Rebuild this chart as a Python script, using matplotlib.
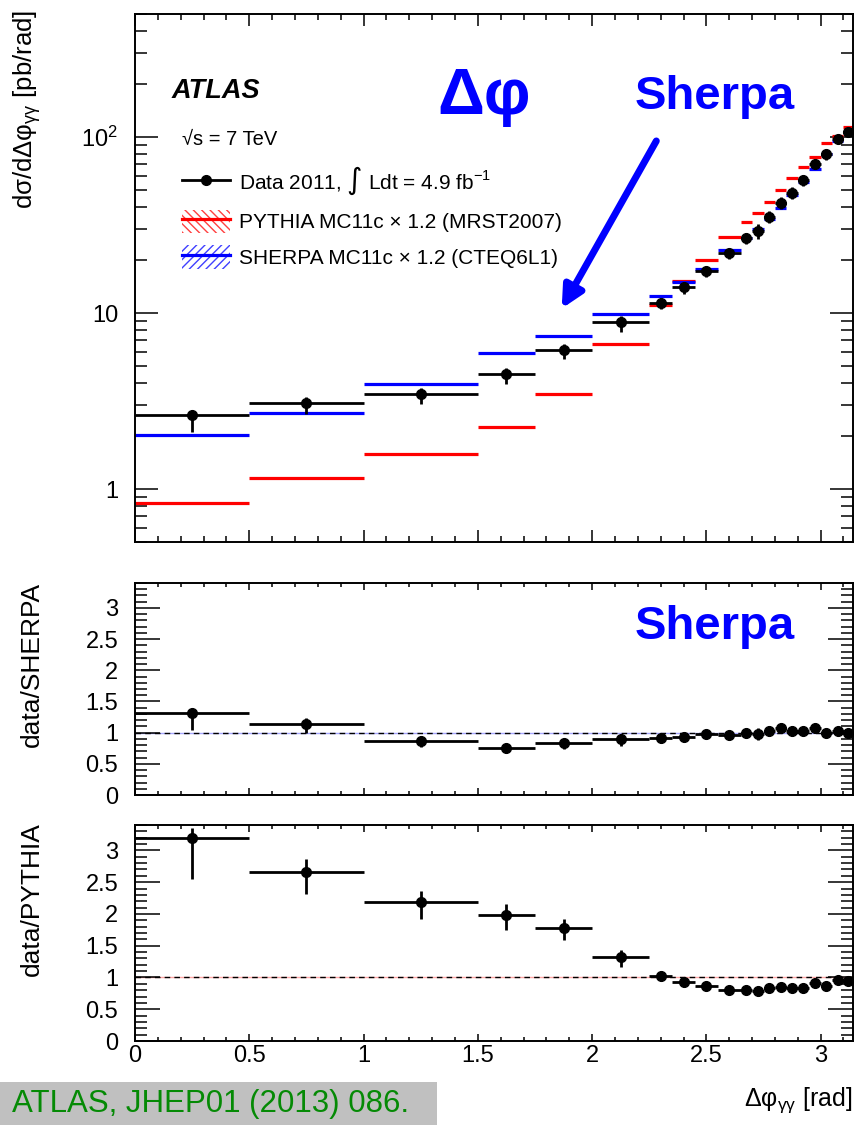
import numpy as np
import matplotlib
matplotlib.use('Agg')
import matplotlib.pyplot as plt
from matplotlib.lines import Line2D
from matplotlib.patches import Patch, Rectangle
from matplotlib.ticker import FixedLocator, MultipleLocator, NullFormatter

plt.rcParams['font.family'] = ['Liberation Sans', 'DejaVu Sans']
plt.rcParams['mathtext.fontset'] = 'custom'
plt.rcParams['mathtext.rm'] = 'Liberation Sans'
plt.rcParams['mathtext.it'] = 'Liberation Sans:italic'
plt.rcParams['hatch.linewidth'] = 1.0

# delta-phi binning [rad]
edges = np.array([0.0, 0.5, 1.0, 1.5, 1.75, 2.0, 2.25, 2.35, 2.45, 2.55, 2.65,
                  2.70, 2.75, 2.80, 2.85, 2.90, 2.95, 3.00, 3.05, 3.10, np.pi])

# cross sections [pb/rad]
data = [2.65, 3.08, 3.45, 4.50, 6.18, 8.87, 11.4, 14.0, 17.3, 21.8,
        26.7, 29.3, 35.3, 42.4, 48.3, 57.0, 70.6, 79.8, 97.8, 106.7]
sherpa = [2.02, 2.71, 3.97, 5.92, 7.45, 9.86, 12.5, 15.1, 17.7, 22.7,
          26.7, 29.9, 34.3, 39.3, 46.9, 55.3, 65.4, 79.8, 95.0, 106.7]
pythia = [0.83, 1.16, 1.575, 2.26, 3.47, 6.67, 11.1, 15.2, 20.1, 26.9,
          33.0, 37.1, 42.5, 49.9, 58.2, 67.9, 76.7, 92.8, 101.9, 113.5]

# fractional data uncertainties (up / down)
err_up = [0.05, 0.08, 0.08, 0.08, 0.08, 0.08, 0.07, 0.07, 0.06, 0.06,
          0.07, 0.09, 0.07, 0.07, 0.07, 0.06, 0.06, 0.06, 0.05, 0.05]
err_dn = [0.20, 0.13, 0.12, 0.12, 0.11, 0.12, 0.08, 0.08, 0.07, 0.07,
          0.08, 0.10, 0.08, 0.08, 0.08, 0.07, 0.07, 0.07, 0.06, 0.06]

data = np.array(data)
sherpa = np.array(sherpa)
pythia = np.array(pythia)
err_up = np.array(err_up)
err_dn = np.array(err_dn)

centers = 0.5 * (edges[1:] + edges[:-1])
halfw = 0.5 * (edges[1:] - edges[:-1])

W, H = 856, 1125
fig = plt.figure(figsize=(W / 100, H / 100), dpi=100)


def px_axes(left, top, right, bottom):
    return fig.add_axes([left / W, 1 - bottom / H, (right - left) / W, (bottom - top) / H])


ax_main = px_axes(135, 14, 853, 542)
ax_sh = px_axes(135, 583, 853, 795)
ax_py = px_axes(135, 825, 853, 1041)

TICK_FS = 17
MS = 7


def style_axes(ax, xmaj, xmin, ymaj, ymin):
    for s in ax.spines.values():
        s.set_linewidth(1.4)
    ax.set_xlim(0, np.pi)
    ax.xaxis.set_major_locator(MultipleLocator(0.5))
    ax.xaxis.set_minor_locator(MultipleLocator(0.1))
    ax.tick_params(axis='both', which='both', direction='in', top=True, right=True,
                   width=1.1, labelsize=TICK_FS)
    ax.tick_params(axis='x', which='major', length=xmaj, pad=4)
    ax.tick_params(axis='x', which='minor', length=xmin)
    ax.tick_params(axis='y', which='major', length=ymaj, pad=12)
    ax.tick_params(axis='y', which='minor', length=ymin)


# --- main panel -------------------------------------------------------------
ax = ax_main
ax.set_yscale('log')
ax.set_ylim(0.5, 500)
style_axes(ax, 8.6, 4.3, 16.5, 8.6)
ax.yaxis.set_major_locator(FixedLocator([1, 10, 100]))
ax.set_yticklabels(['1', '10', '$10^{2}$'])
ax.yaxis.set_minor_locator(FixedLocator(
    [m * 10.0 ** e for e in (-1, 0, 1, 2) for m in range(2, 10)]))
ax.yaxis.set_minor_formatter(NullFormatter())
ax.set_xticklabels([])

ax.hlines(pythia, edges[:-1], edges[1:], colors='#ff0000', lw=2.3, zorder=2)
ax.hlines(sherpa, edges[:-1], edges[1:], colors='#0000ff', lw=2.3, zorder=2)
ax.errorbar(centers, data, xerr=halfw, yerr=[data * err_dn, data * err_up],
            fmt='o', color='black', ms=MS, elinewidth=2.0, capsize=0, zorder=3)

ax.text(0.0515, 0.854, 'ATLAS', transform=ax.transAxes, fontsize=19.5,
        fontweight='bold', fontstyle='italic', va='center', ha='left')
ax.text(0.0655, 0.763, '√s = 7 TeV', transform=ax.transAxes, fontsize=14.5,
        va='center', ha='left')

h_data = Line2D([], [], color='black', lw=2.0, marker='o', ms=MS)
h_py = (Patch(facecolor='none', edgecolor='#ff4040', hatch='\\\\\\\\', lw=0),
        Line2D([], [], color='#ff0000', lw=2.3))
h_sh = (Patch(facecolor='none', edgecolor='#4040ff', hatch='////', lw=0),
        Line2D([], [], color='#0000ff', lw=2.3))
leg = ax.legend([h_data, h_py, h_sh],
                [r'Data 2011, $\int$ Ldt = 4.9 fb$^{\mathregular{-1}}$',
                 'PYTHIA MC11c × 1.2 (MRST2007)',
                 'SHERPA MC11c × 1.2 (CTEQ6L1)'],
                loc='upper left', bbox_to_anchor=(0.0655, 0.7145), frameon=False,
                fontsize=15, borderpad=0, borderaxespad=0, handlelength=2.3,
                handleheight=1.35, handletextpad=0.45, labelspacing=0.6)
leg.get_texts()[0].set_math_fontfamily('dejavusans')

ax.text(0.486, 0.843, 'Δφ', transform=ax.transAxes, fontsize=47,
        fontweight='bold', color='#0000ff', ha='center', va='center')
ax.text(0.808, 0.843, 'Sherpa', transform=ax.transAxes, fontsize=34,
        fontweight='bold', color='#0000ff', ha='center', va='center')
ax.annotate('', xy=(1.867, 10.6), xytext=(2.281, 95.0),
            arrowprops=dict(arrowstyle='-|>', color='#0000ff', lw=5,
                            mutation_scale=32, shrinkA=0, shrinkB=0))

# --- ratio panels ------------------------------------------------------------
for ax, mc, col in ((ax_sh, sherpa, '#0000ff'), (ax_py, pythia, '#ff0000')):
    ratio = data / mc
    ax.set_ylim(0, 3.4)
    style_axes(ax, 5, 3, 18, 8.6)
    ax.yaxis.set_minor_locator(MultipleLocator(0.1))
    ax.set_yticks(np.arange(0, 3.01, 0.5))
    ax.set_yticklabels(['0', '0.5', '1', '1.5', '2', '2.5', '3'])
    ax.axhline(1.0, color=col, lw=1.0, alpha=0.35, zorder=1)
    ax.axhline(1.0, color='black', lw=1.0, ls=(0, (4, 3)), zorder=2)
    ax.errorbar(centers, ratio, xerr=halfw, yerr=[ratio * err_dn, ratio * err_up],
                fmt='o', color='black', ms=MS, elinewidth=2.0, capsize=0, zorder=3)

ax_sh.set_xticklabels([])
ax_py.set_xticks([0, 0.5, 1, 1.5, 2, 2.5, 3])
ax_py.set_xticklabels(['0', '0.5', '1', '1.5', '2', '2.5', '3'])
ax_py.tick_params(axis='x', which='major', pad=3)

ax_sh.text(0.808, 0.792, 'Sherpa', transform=ax_sh.transAxes, fontsize=34,
           fontweight='bold', color='#0000ff', ha='center', va='center')

# axis titles
fig.text(27 / W, 1 - 10 / H, 'dσ/dΔφ$_{\\mathregular{γγ}}$ [pb/rad]',
         rotation=90, ha='center', va='top', fontsize=18.5)
fig.text(32 / W, 1 - 582 / H, 'data/SHERPA', rotation=90, ha='center', va='top',
         fontsize=19)
fig.text(32 / W, 1 - 822 / H, 'data/PYTHIA', rotation=90, ha='center', va='top',
         fontsize=19)
fig.text(853 / W, 1 - 1100 / H, 'Δφ$_{\\mathregular{γγ}}$ [rad]',
         ha='right', va='center', fontsize=18)

# reference tag
fig.patches.append(Rectangle((0, 0), 437 / W, 43 / H, transform=fig.transFigure,
                             facecolor='#c0c0c0', edgecolor='none', zorder=0))
fig.text(12 / W, 21 / H, 'ATLAS, JHEP01 (2013) 086.', color='#058a05',
         fontsize=22.5, ha='left', va='center')

fig.savefig('out.png', dpi=100)
